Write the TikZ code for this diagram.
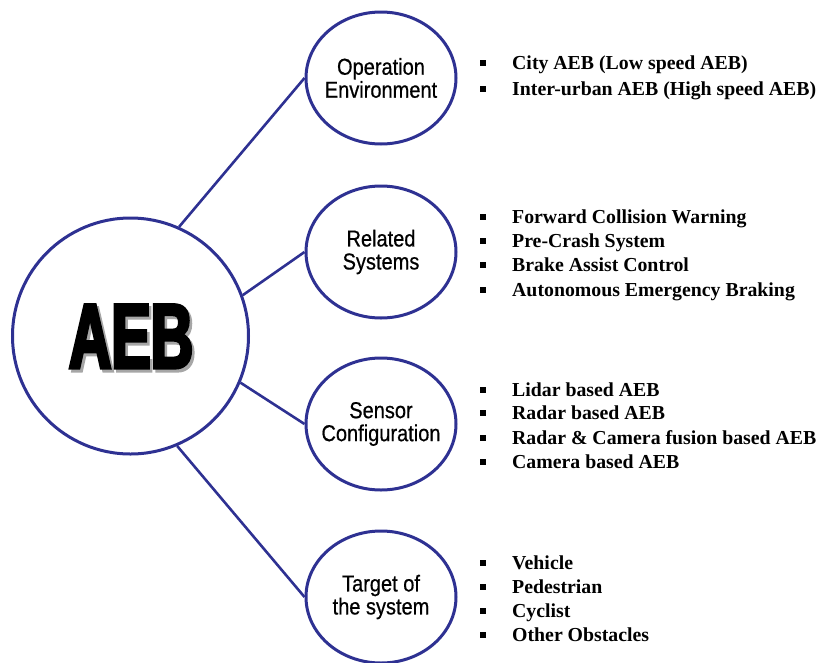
\documentclass[tikz,border=0pt]{standalone}
\usepackage{fontspec}
\setmainfont{Liberation Serif}
\newfontfamily\lblfont[FakeStretch=0.87,FakeBold=0.6]{Liberation Sans}
\newfontfamily\aebfont[FakeStretch=0.64,FakeBold=3.5]{Liberation Sans Bold}
\usetikzlibrary{shapes.geometric}
\definecolor{cblue}{RGB}{46,49,146}
\newcommand\sqb{\makebox[32pt][l]{\rule[3.5pt]{5.5pt}{5.5pt}}}
\newcommand\shadowed[1]{\makebox[0pt][l]{\hspace{2.5pt}\raisebox{-3pt}{\textcolor{gray!70}{#1}}}#1}
\begin{document}
\begin{tikzpicture}[x=1pt,y=-1pt,
  bigc/.style={circle, draw=cblue, line width=3pt, minimum size=236pt, inner sep=0pt},
  smallc/.style={ellipse, draw=cblue, line width=3pt, minimum width=150pt, minimum height=132pt, inner sep=0pt},
  lbl/.style={inner sep=0pt, align=center, font=\lblfont\fontsize{23}{23}\selectfont},
  link/.style={draw=cblue, line width=2.6pt},
  item/.style={anchor=base west, inner sep=0pt, font=\bfseries\fontsize{19.8}{20}\selectfont},
  aebtxt/.style={anchor=base, inner sep=0pt, font=\aebfont\fontsize{92}{92}\selectfont}]
\useasboundingbox (0,0) rectangle (820,662);
\node[bigc] (aeb) at (130.5,336) {};
\node[aebtxt] (aebt) at (131,368) {\shadowed{AEB}};
\node[smallc] (op) at (381,78) {};
\node[smallc] (rs) at (381,252) {};
\node[smallc] (sc) at (381,424) {};
\node[smallc] (ts) at (381,597) {};
\node[lbl] (opl) at (op) {Operation\\Environment};
\node[lbl] (rsl) at (rs) {Related\\Systems};
\node[lbl] (scl) at (sc) {Sensor\\Configuration};
\node[lbl] (tsl) at (ts) {Target of\\the system};
\draw[link] (aeb.66) -- (op.west);
\draw[link] (aeb.20) -- (rs.west);
\draw[link] (aeb.-23) -- (sc.west);
\draw[link] (aeb.-67) -- (ts.west);
\node[item] (a1) at (480,69) {\sqb City AEB (Low speed AEB)};
\node[item] (a2) at (480,95) {\sqb Inter-urban AEB (High speed AEB)};
\node[item] (b1) at (480,223) {\sqb Forward Collision Warning};
\node[item] (b2) at (480,247) {\sqb Pre-Crash System};
\node[item] (b3) at (480,271) {\sqb Brake Assist Control};
\node[item] (b4) at (480,296) {\sqb Autonomous Emergency Braking};
\node[item] (c1) at (480,396) {\sqb Lidar based AEB};
\node[item] (c2) at (480,419) {\sqb Radar based AEB};
\node[item] (c3) at (480,444) {\sqb Radar \& Camera fusion based AEB};
\node[item] (c4) at (480,468) {\sqb Camera based AEB};
\node[item] (d1) at (480,569) {\sqb Vehicle};
\node[item] (d2) at (480,593) {\sqb Pedestrian};
\node[item] (d3) at (480,617) {\sqb Cyclist};
\node[item] (d4) at (480,641) {\sqb Other Obstacles};
\end{tikzpicture}
\end{document}
